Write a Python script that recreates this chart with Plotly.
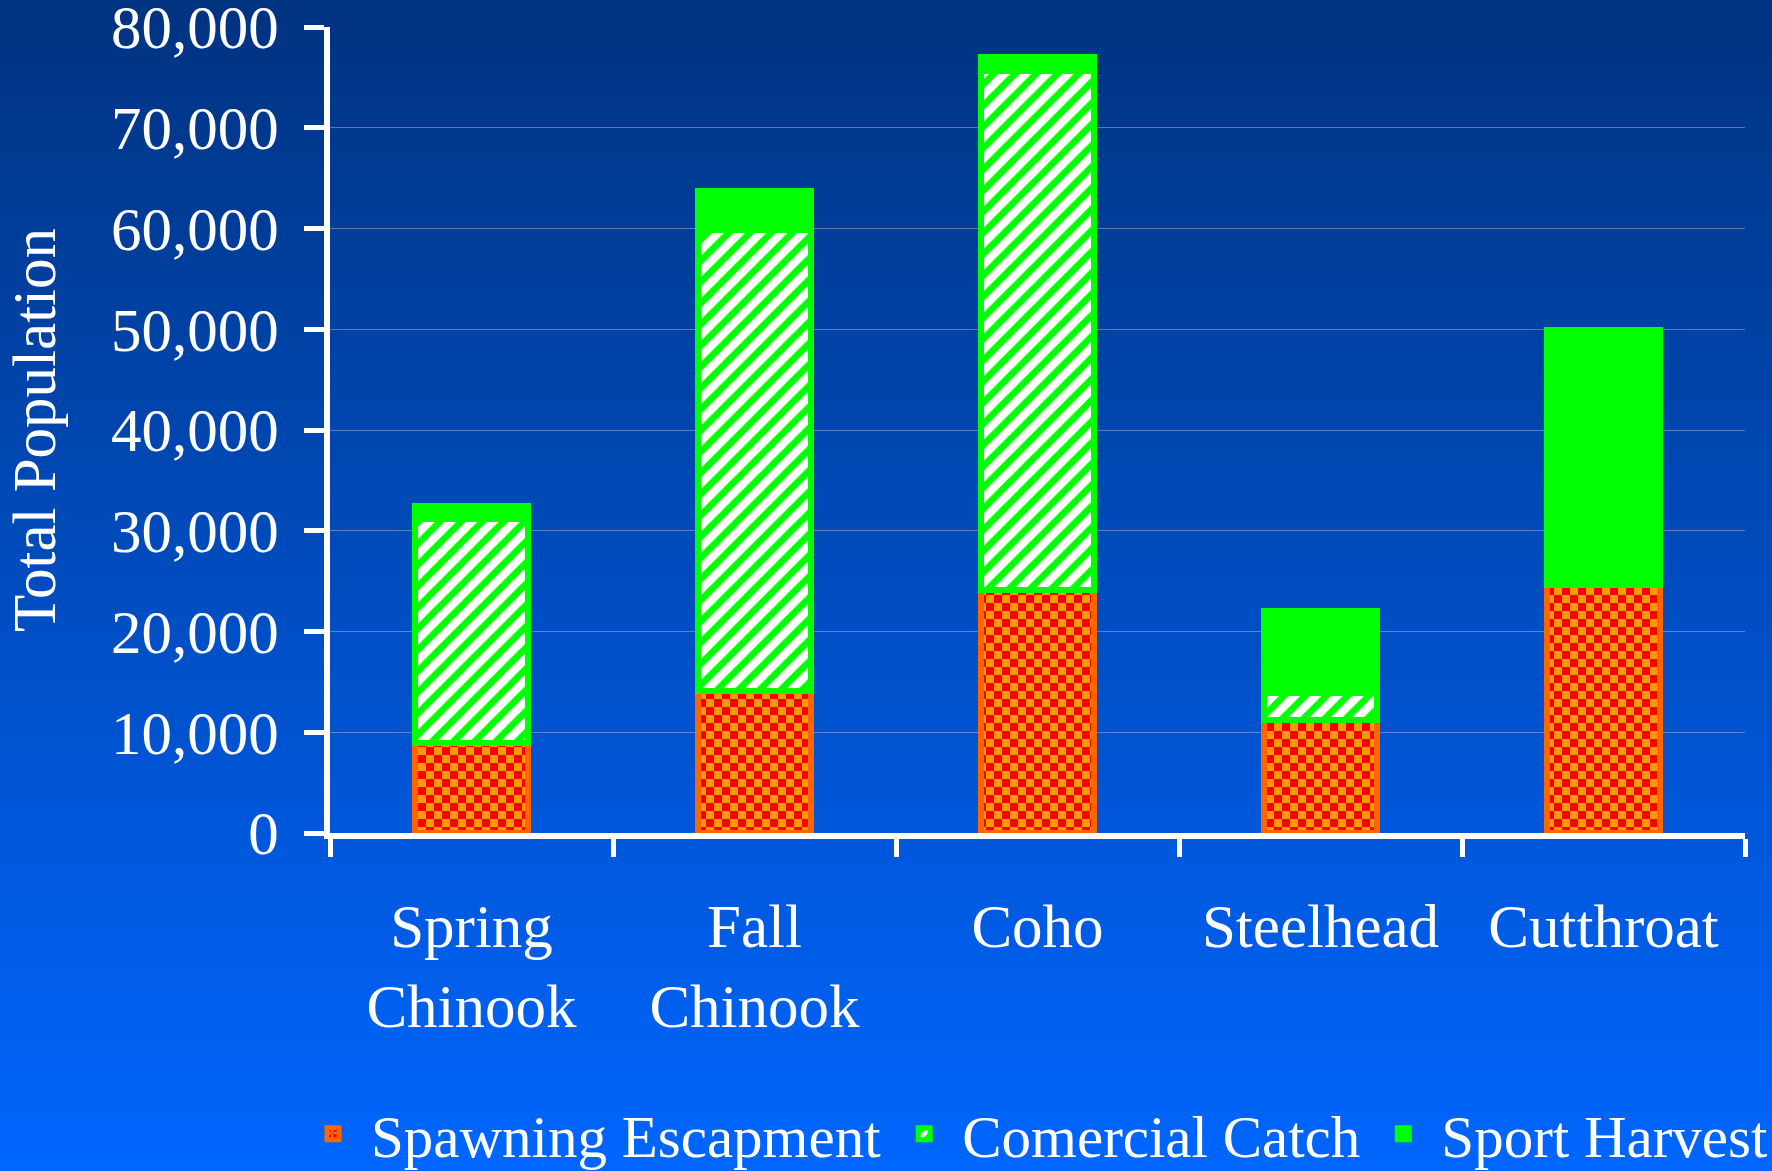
import base64
import plotly.graph_objects as go

# ---- data ----
categories = ["Spring<br>Chinook", "Fall<br>Chinook", "Coho", "Steelhead", "Cutthroat"]
spawning_escapment = [8900, 14100, 24100, 11200, 24600]
comercial_catch = [22300, 45800, 51500, 2700, 0]
sport_harvest = [1250, 3850, 1400, 8100, 25300]
series_names = ["Spawning Escapment", "Comercial Catch", "Sport Harvest"]
y_tick_values = [0, 10000, 20000, 30000, 40000, 50000, 60000, 70000, 80000]

# ---- layout geometry ----
FIG_W, FIG_H = 1772, 1171
M_L, M_R, M_T, M_B = 330, 27, 27, 338
PW, PH = FIG_W - M_L - M_R, FIG_H - M_T - M_B

FONT = "Liberation Serif, Times New Roman, serif"
LIME = "#00ff00"

svg = (
    f'<svg xmlns="http://www.w3.org/2000/svg" width="{FIG_W}" height="{FIG_H}" '
    f'preserveAspectRatio="none"><defs><linearGradient id="g" x1="0" y1="0" x2="0" y2="1">'
    '<stop offset="0" stop-color="#003380"/><stop offset="1" stop-color="#0066ff"/>'
    f'</linearGradient></defs><rect width="{FIG_W}" height="{FIG_H}" fill="url(#g)"/></svg>'
)
bg_src = "data:image/svg+xml;base64," + base64.b64encode(svg.encode()).decode()

checker = dict(path="M0,0H8V8H0Z M8,8H16V16H8Z", size=16, bgcolor="#ff9900",
               fgcolor="#ff0000", fillmode="replace", solidity=0.5)
try:
    go.bar.marker.Pattern(**checker)
except Exception:
    checker = dict(shape="+", size=10, bgcolor="#ff0000", fgcolor="#ff9900",
                   fillmode="replace", solidity=0.4)

fig = go.Figure()
fig.add_trace(go.Bar(
    x=categories, y=spawning_escapment, name=series_names[0],
    marker=dict(color="#ff9900", line=dict(color="#ff6600", width=6), pattern=checker),
))
fig.add_trace(go.Bar(
    x=categories, y=comercial_catch, name=series_names[1],
    marker=dict(color=LIME, line=dict(color=LIME, width=6),
                pattern=dict(shape="/", size=15, solidity=0.55, bgcolor=LIME,
                             fgcolor="#ffffff", fillmode="replace")),
))
fig.add_trace(go.Bar(
    x=categories, y=sport_harvest, name=series_names[2],
    marker=dict(color=LIME, line=dict(color=LIME, width=6)),
))

fig.update_layout(
    width=FIG_W, height=FIG_H,
    barmode="stack", bargap=0.6,
    margin=dict(l=M_L, r=M_R, t=M_T, b=M_B, autoexpand=False),
    paper_bgcolor="#004cc0", plot_bgcolor="rgba(0,0,0,0)",
    font=dict(family=FONT, color="white", size=59),
    images=[dict(source=bg_src, xref="paper", yref="paper",
                 x=-M_L / PW, y=1 + M_T / PH, sizex=FIG_W / PW, sizey=FIG_H / PH,
                 xanchor="left", yanchor="top", sizing="stretch", layer="below")],
    legend=dict(orientation="h", x=(295 - M_L) / PW, xanchor="left",
                y=-(1134 - (M_T + PH)) / PH, yanchor="middle",
                font=dict(family=FONT, size=59, color="white"),
                bgcolor="rgba(0,0,0,0)", itemwidth=66, traceorder="normal"),
    showlegend=True,
)
fig.update_xaxes(
    type="category", tickson="boundaries", ticks="outside", ticklen=18, tickwidth=5,
    tickcolor="white", showline=True, linewidth=6, linecolor="white",
    showgrid=False, ticklabelstandoff=35,
    tickfont=dict(family=FONT, size=61, color="white"),
)
fig.update_yaxes(
    range=[0, 80000], tickvals=y_tick_values, tickformat=",", ticks="outside",
    ticklen=20, tickwidth=5, tickcolor="white", showline=True, linewidth=6,
    linecolor="white", showgrid=True, gridcolor="rgba(190,200,225,0.45)", gridwidth=1,
    zeroline=False, ticklabelstandoff=13, ticklabeloverflow="allow",
    tickfont=dict(family=FONT, size=61, color="white"),
    title=dict(text="Total Population", standoff=38,
               font=dict(family=FONT, size=61, color="white")),
)

fig.write_html(
    "out.html",
    config={"displayModeBar": False},
    post_script="document.body.style.margin='0';document.body.style.overflow='hidden';",
)
